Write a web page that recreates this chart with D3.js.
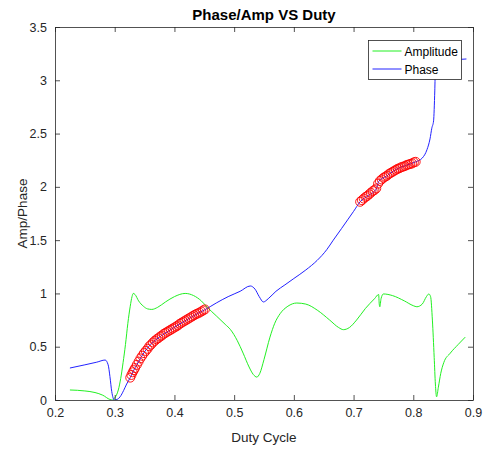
<!DOCTYPE html>
<html>
<head>
<meta charset="utf-8">
<script src="https://cdn.jsdelivr.net/npm/d3@7"></script>
<style>
  html, body { margin: 0; padding: 0; background: #fff; }
  svg { display: block; font-family: "Liberation Sans", Arial, sans-serif; }
</style>
</head>
<body>
<svg id="chart" width="483" height="449"></svg>
<script>
// Phase curve samples (duty cycle, phase)
const phaseDuty = [0.225,0.25,0.27,0.284,0.289,0.292,0.295,0.2995,0.304,0.309,0.315,0.320,0.326,0.332,0.337,0.344,0.351,0.360,0.370,0.384,0.398,0.412,0.426,0.440,0.452,0.47,0.49,0.51,0.527,0.535,0.542,0.549,0.557,0.57,0.585,0.600,0.62,0.639,0.655,0.666,0.680,0.690,0.700,0.711,0.725,0.738,0.742,0.755,0.770,0.787,0.804,0.815,0.823,0.828,0.831,0.834,0.836,0.837,0.845,0.87,0.889];
const phaseVals = [0.30,0.33,0.355,0.375,0.33,0.22,0.08,0.0,0.005,0.03,0.09,0.15,0.21,0.28,0.33,0.40,0.46,0.52,0.57,0.625,0.675,0.725,0.77,0.815,0.85,0.91,0.97,1.02,1.07,1.04,0.97,0.92,0.95,1.02,1.08,1.14,1.22,1.31,1.41,1.50,1.61,1.69,1.77,1.86,1.92,1.98,2.05,2.10,2.16,2.20,2.235,2.27,2.35,2.45,2.55,2.62,2.9,3.1,3.15,3.19,3.2];

// Amplitude curve samples (duty cycle, amplitude)
const ampDuty = [0.225,0.25,0.267,0.28,0.292,0.296,0.300,0.306,0.310,0.314,0.318,0.322,0.326,0.329,0.331,0.334,0.340,0.348,0.355,0.362,0.372,0.385,0.400,0.418,0.432,0.445,0.455,0.47,0.485,0.494,0.505,0.515,0.525,0.532,0.538,0.543,0.550,0.560,0.568,0.577,0.590,0.605,0.620,0.640,0.660,0.675,0.683,0.693,0.705,0.720,0.735,0.742,0.743,0.744,0.746,0.750,0.765,0.785,0.800,0.806,0.815,0.822,0.826,0.829,0.832,0.835,0.837,0.839,0.842,0.846,0.851,0.862,0.875,0.887];
const ampVals = [0.094,0.085,0.07,0.045,0.005,0.0,0.02,0.094,0.2,0.35,0.52,0.72,0.88,0.97,1.0,0.99,0.93,0.88,0.855,0.85,0.87,0.92,0.97,1.0,0.98,0.93,0.87,0.79,0.71,0.66,0.56,0.44,0.31,0.24,0.215,0.25,0.38,0.59,0.72,0.81,0.88,0.91,0.90,0.84,0.75,0.68,0.66,0.68,0.75,0.86,0.95,0.99,0.90,0.875,0.95,0.995,0.98,0.93,0.885,0.875,0.9,0.97,0.995,0.97,0.75,0.40,0.15,0.03,0.12,0.25,0.35,0.44,0.52,0.59];

// Selected operating points marked on the phase curve
const markDuty = [0.326,0.328,0.330,0.332,0.334,0.337,0.340,0.343,0.346,0.349,0.352,0.355,0.358,0.361,0.364,0.367,0.370,0.373,0.376,0.379,0.382,0.385,0.388,0.391,0.394,0.397,0.400,0.403,0.406,0.409,0.412,0.415,0.418,0.421,0.424,0.427,0.430,0.433,0.436,0.439,0.442,0.445,0.448,0.451,
  0.711,0.714,0.717,0.720,0.723,0.726,0.729,0.732,0.735,0.738,0.741,0.744,0.747,0.750,0.753,0.756,0.759,0.762,0.765,0.768,0.771,0.774,0.777,0.780,0.783,0.786,0.789,0.792,0.795,0.798,0.801,0.804];
const markPhase = [0.21,0.235,0.26,0.28,0.30,0.33,0.36,0.39,0.415,0.44,0.46,0.48,0.505,0.52,0.54,0.555,0.57,0.58,0.595,0.605,0.62,0.63,0.64,0.65,0.66,0.67,0.68,0.69,0.70,0.715,0.725,0.735,0.745,0.755,0.765,0.775,0.785,0.795,0.805,0.812,0.82,0.83,0.84,0.85,
  1.86,1.875,1.89,1.905,1.915,1.93,1.945,1.96,1.97,1.985,2.03,2.055,2.07,2.085,2.095,2.105,2.12,2.13,2.14,2.15,2.16,2.17,2.175,2.185,2.19,2.195,2.205,2.21,2.215,2.22,2.23,2.235];

const xTicks = [0.2,0.3,0.4,0.5,0.6,0.7,0.8,0.9];
const yTicks = [0,0.5,1,1.5,2,2.5,3,3.5];

const svg = d3.select("#chart");
const m = { left: 55, right: 473, top: 27, bottom: 400 };
const axisColor = "#262626";

const x = d3.scaleLinear().domain([0.2, 0.9]).range([m.left, m.right]);
const y = d3.scaleLinear().domain([0, 3.5]).range([m.bottom, m.top]);

const plot = svg.append("g");

// clip lines to the axes box
svg.append("clipPath").attr("id", "clip")
  .append("rect").attr("x", m.left).attr("y", m.top)
  .attr("width", m.right - m.left).attr("height", m.bottom - m.top);

const line = d3.line().x(d => x(d[0])).y(d => y(d[1])).curve(d3.curveMonotoneX);

const ampData = ampDuty.map((d, i) => [d, ampVals[i]]);
const phaseData = phaseDuty.map((d, i) => [d, phaseVals[i]]);
const markData = markDuty.map((d, i) => [d, markPhase[i]]);

const lines = plot.append("g").attr("clip-path", "url(#clip)");
lines.append("path").datum(ampData)
  .attr("d", line).attr("fill", "none")
  .attr("stroke", "#22f022").attr("stroke-width", 1);
lines.append("path").datum(phaseData)
  .attr("d", line).attr("fill", "none")
  .attr("stroke", "#2222ff").attr("stroke-width", 1);

lines.append("g").selectAll("circle").data(markData).join("circle")
  .attr("cx", d => x(d[0])).attr("cy", d => y(d[1])).attr("r", 4.5)
  .attr("fill", "none").attr("stroke", "#ff0000").attr("stroke-width", 0.9);

// axes with inward ticks on all four sides
const tickLen = 5;
const fmt = d3.format("~g");

const xAxisB = d3.axisBottom(x).tickValues(xTicks).tickFormat(fmt).tickSizeInner(-tickLen).tickSizeOuter(0).tickPadding(8);
const xAxisT = d3.axisTop(x).tickValues(xTicks).tickFormat("").tickSizeInner(-tickLen).tickSizeOuter(0);
const yAxisL = d3.axisLeft(y).tickValues(yTicks).tickFormat(fmt).tickSizeInner(-tickLen).tickSizeOuter(0).tickPadding(8);
const yAxisR = d3.axisRight(y).tickValues(yTicks).tickFormat("").tickSizeInner(-tickLen).tickSizeOuter(0);

function styleAxis(g) {
  g.select(".domain").attr("stroke", axisColor).attr("stroke-width", 0.8);
  g.selectAll(".tick line").attr("stroke", axisColor).attr("stroke-width", 0.8);
  g.selectAll(".tick text").attr("fill", axisColor).style("font-size", "12.5px")
    .style("font-family", "'Liberation Sans', Arial, sans-serif");
}

svg.append("g").attr("transform", `translate(0,${m.bottom})`).call(xAxisB).call(styleAxis);
svg.append("g").attr("transform", `translate(0,${m.top})`).call(xAxisT).call(styleAxis);
svg.append("g").attr("transform", `translate(${m.left},0)`).call(yAxisL).call(styleAxis);
svg.append("g").attr("transform", `translate(${m.right},0)`).call(yAxisR).call(styleAxis);

// title and axis labels
svg.append("text").attr("x", (m.left + m.right) / 2).attr("y", 20)
  .attr("text-anchor", "middle").style("font-weight", "bold").style("font-size", "15px")
  .attr("fill", "#000").text("Phase/Amp VS Duty");

svg.append("text").attr("x", (m.left + m.right) / 2).attr("y", 442)
  .attr("text-anchor", "middle").style("font-size", "13.5px")
  .attr("fill", axisColor).text("Duty Cycle");

svg.append("text")
  .attr("transform", `translate(27,${(m.top + m.bottom) / 2}) rotate(-90)`)
  .attr("text-anchor", "middle").style("font-size", "13.5px")
  .attr("fill", axisColor).text("Amp/Phase");

// legend
const legend = svg.append("g").attr("transform", "translate(368.5,40.5)");
legend.append("rect").attr("width", 93).attr("height", 39)
  .attr("fill", "#fff").attr("stroke", axisColor).attr("stroke-width", 0.8);
const legendItems = [
  { label: "Amplitude", color: "#22f022" },
  { label: "Phase", color: "#2222ff" }
];
legendItems.forEach((it, i) => {
  const yy = 10.5 + i * 18;
  legend.append("line").attr("x1", 4).attr("x2", 33).attr("y1", yy).attr("y2", yy)
    .attr("stroke", it.color).attr("stroke-width", 1);
  legend.append("text").attr("x", 36).attr("y", yy + 4.5)
    .style("font-size", "12px").attr("fill", "#000").text(it.label);
});
</script>
</body>
</html>
